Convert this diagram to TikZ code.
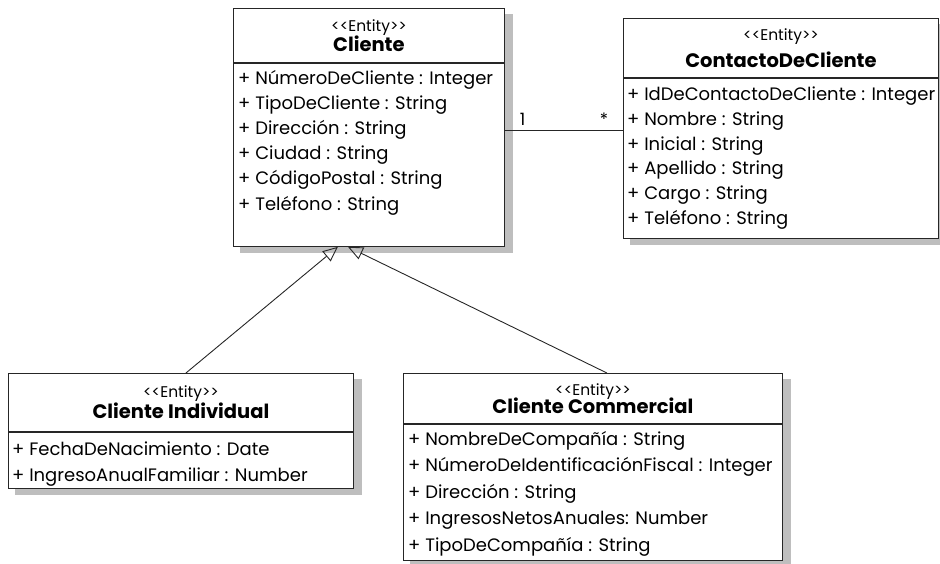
\documentclass[tikz,border=0pt]{standalone}
\usepackage{fontspec}
\setmainfont{Poppins}
\usetikzlibrary{arrows.meta,positioning,calc}

\newcommand{\entity}{{\fontsize{15.5}{20}\selectfont<\kern0pt<Entity>\kern0pt>}}
\newcommand{\umlname}[1]{{\fontsize{19.5}{22}\selectfont\bfseries #1}}
\definecolor{shadowgray}{RGB}{190,190,190}

\begin{document}
\begin{tikzpicture}[
  x=1pt, y=-1pt,
  >={Triangle[open,length=15pt,width=13pt]},
  box/.style={draw=black!85, fill=white, line width=0.9pt, anchor=north west,
              inner sep=0pt},
  head/.style={box, align=center},
  attr/.style={anchor=north west, align=left, inner sep=0pt,
               font=\fontsize{18}{25.2}\selectfont},
  boxshadow/.style={fill=shadowgray, draw=shadowgray, line width=0.1pt},
  line/.style={draw=black!85, line width=0.9pt},
  mult/.style={inner sep=1pt, font=\fontsize{17}{20}\selectfont}
]
\useasboundingbox (0,0) rectangle (940,563);

% shadows, drawn first so the boxes cover them
\filldraw[boxshadow] (240,14) rectangle (512,252);
\filldraw[boxshadow] (630,24) rectangle (945,244);
\filldraw[boxshadow] (15,379) rectangle (361,494);
\filldraw[boxshadow] (410,379) rectangle (790,570);

% Cliente
\node[head, minimum width=271pt, minimum height=54pt] (cliHead) at (233,8)
  {\entity\\[-1pt] \umlname{Cliente}};
\node[box, minimum width=271pt, minimum height=183pt] (cliBody) at (cliHead.south west) {};
\node[attr] (cliAttr) at ($(cliBody.north west)+(5,7)$)
  {+ NúmeroDeCliente : Integer\\
   + TipoDeCliente : String\\
   + Dirección : String\\
   + Ciudad : String\\
   + CódigoPostal : String\\
   + Teléfono : String};

% ContactoDeCliente
\node[head, minimum width=315pt, minimum height=59pt] (conHead) at (623,18)
  {\entity\\[6pt] \umlname{ContactoDeCliente}};
\node[box, minimum width=315pt, minimum height=160pt] (conBody) at (conHead.south west) {};
\node[attr, font=\fontsize{18}{24.7}\selectfont] (conAttr) at ($(conBody.north west)+(4,9)$)
  {+ IdDeContactoDeCliente : Integer\\
   + Nombre : String\\
   + Inicial : String\\
   + Apellido : String\\
   + Cargo : String\\
   + Teléfono : String};

% Cliente Individual
\node[head, minimum width=345pt, minimum height=58pt] (indHead) at (8,373)
  {\entity\\ \umlname{Cliente Individual}};
\node[box, minimum width=345pt, minimum height=56pt] (indBody) at (indHead.south west) {};
\node[attr, font=\fontsize{18}{26}\selectfont] (indAttr) at ($(indBody.north west)+(4,10)$)
  {+ FechaDeNacimiento : Date\\
   + IngresoAnualFamiliar : Number};

% Cliente Commercial
\node[head, minimum width=379pt, minimum height=50pt] (comHead) at (403,373)
  {\entity\\[-3pt] \umlname{Cliente Commercial}};
\node[box, minimum width=379pt, minimum height=136pt] (comBody) at (comHead.south west) {};
\node[attr, font=\fontsize{18}{26.5}\selectfont] (comAttr) at ($(comBody.north west)+(5,7)$)
  {+ NombreDeCompañía : String\\
   + NúmeroDeIdentificaciónFiscal : Integer\\
   + Dirección : String\\
   + IngresosNetosAnuales: Number\\
   + TipoDeCompañía : String};

% association
\coordinate (assoc) at ($(cliBody.north east)+(0,68)$);
\draw[line] (assoc) -- (assoc -| conBody.west)
  node[mult, pos=0.15, above=4pt] (one) {1}
  node[mult, pos=0.84, above=4pt] (many) {*};

% generalization
\coordinate (indTop) at ($(indHead.north)+(5,0)$);
\coordinate (comTop) at ($(comHead.north)+(14,0)$);
\coordinate (indTip) at ($(cliBody.south)+(-31,0)$);
\coordinate (comTip) at ($(cliBody.south)+(-21,0)$);
\draw[line, ->] (indTop) -- (indTip);
\draw[line, ->] (comTop) -- (comTip);
\end{tikzpicture}
\end{document}
